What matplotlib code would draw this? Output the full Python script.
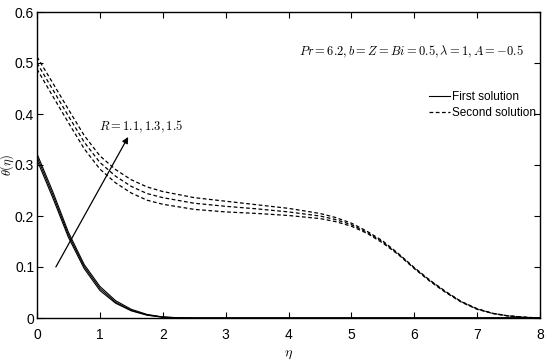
import matplotlib
matplotlib.use('Agg')
import matplotlib.pyplot as plt

plt.rcParams['font.family'] = ['Liberation Sans', 'DejaVu Sans']
plt.rcParams['mathtext.fontset'] = 'cm'

# first solution, R = 1.1, 1.3, 1.5
etaFirst = [0, 0.25, 0.5, 0.75, 1.0, 1.25, 1.5, 1.75, 2.0, 2.25, 2.5, 3, 4, 5, 6, 7, 8]
first_R11 = [0.310, 0.236, 0.158, 0.097, 0.054, 0.029, 0.014, 0.0055, 0.0015, 0.0003, 0, 0, 0, 0, 0, 0, 0]
first_R13 = [0.316, 0.242, 0.163, 0.101, 0.058, 0.031, 0.015, 0.006, 0.0018, 0.0004, 0, 0, 0, 0, 0, 0, 0]
first_R15 = [0.322, 0.248, 0.168, 0.105, 0.062, 0.034, 0.017, 0.007, 0.002, 0.0005, 0, 0, 0, 0, 0, 0, 0]

# second solution
etaSecond = [0, 0.25, 0.5, 0.75, 1.0, 1.25, 1.5, 1.75, 2.0, 2.5, 3.0, 3.5, 4.0, 4.5, 4.75,
             5.0, 5.25, 5.5, 5.75, 6.0, 6.25, 6.5, 6.75, 7.0, 7.25, 7.5, 7.75, 8.0]
second_R11 = [0.488, 0.435, 0.383, 0.332, 0.292, 0.265, 0.245, 0.231, 0.223, 0.213, 0.208, 0.205, 0.201, 0.195,
              0.189, 0.180, 0.166, 0.147, 0.124, 0.097, 0.072, 0.050, 0.031, 0.017, 0.009, 0.004, 0.0015, 0.0]
second_R13 = [0.500, 0.448, 0.396, 0.345, 0.305, 0.278, 0.258, 0.244, 0.236, 0.225, 0.219, 0.214, 0.208, 0.200,
              0.193, 0.183, 0.168, 0.149, 0.125, 0.098, 0.073, 0.051, 0.032, 0.018, 0.009, 0.004, 0.0015, 0.0]
second_R15 = [0.512, 0.461, 0.409, 0.358, 0.318, 0.291, 0.271, 0.257, 0.248, 0.236, 0.229, 0.222, 0.215, 0.205,
              0.197, 0.186, 0.170, 0.151, 0.126, 0.099, 0.074, 0.052, 0.032, 0.018, 0.009, 0.004, 0.0015, 0.0]

xTicks = [0, 1, 2, 3, 4, 5, 6, 7, 8]
yTicks = [0, 0.1, 0.2, 0.3, 0.4, 0.5, 0.6]
yTickLabels = ['0', '0.1', '0.2', '0.3', '0.4', '0.5', '0.6']

W, H = 550.0, 363.0
fig = plt.figure(figsize=(W / 100, H / 100), dpi=100)
# axes box in pixels: left 37, right 540, top 12, bottom 318
ax = fig.add_axes([37 / W, (H - 318) / H, (540 - 37) / W, (318 - 12) / H])

for ii, yy in enumerate([first_R11, first_R13, first_R15]):
    ax.plot(etaFirst, yy, color='black', lw=0.8, label='First solution' if ii == 0 else None)
for ii, yy in enumerate([second_R11, second_R13, second_R15]):
    ax.plot(etaSecond, yy, color='black', lw=0.9, dashes=(3, 2),
            label='Second solution' if ii == 0 else None)

ax.set_xlim(0, 8)
ax.set_ylim(0, 0.6)
ax.set_xticks(xTicks)
ax.set_yticks(yTicks)
ax.set_yticklabels(yTickLabels)
ax.tick_params(direction='in', top=True, right=True, length=4, width=0.8, labelsize=10)
ax.tick_params(axis='x', pad=7)
ax.tick_params(axis='y', pad=2)
for sp in ax.spines.values():
    sp.set_linewidth(1.0)
    sp.set_color('black')
    sp.set_visible(True)

ax.set_xlabel(r'$\eta$', fontsize=10, labelpad=4)
fig.text(7.5 / W, 0.545, r'$\theta(\eta)$', fontsize=9, rotation=90, ha='center', va='center')

ax.text(7.74, 0.522, r'$Pr=6.2, b=Z=Bi=0.5, \lambda=1, A=-0.5$', fontsize=9,
        ha='right', va='center')
ax.text(0.99, 0.375, r'$R=1.1, 1.3, 1.5$', fontsize=9, ha='left', va='center')
ax.annotate('', xy=(1.45, 0.355), xytext=(0.3, 0.1),
            arrowprops=dict(arrowstyle='-|>', color='black', lw=0.9, mutation_scale=9,
                            shrinkA=0, shrinkB=0))

leg = ax.legend(loc='center left', bbox_to_anchor=(0.779, 0.696), frameon=False,
                fontsize=8.5, handlelength=1.8, handletextpad=0.2, labelspacing=0.3,
                borderpad=0, borderaxespad=0)

fig.savefig('out.png', dpi=100)
